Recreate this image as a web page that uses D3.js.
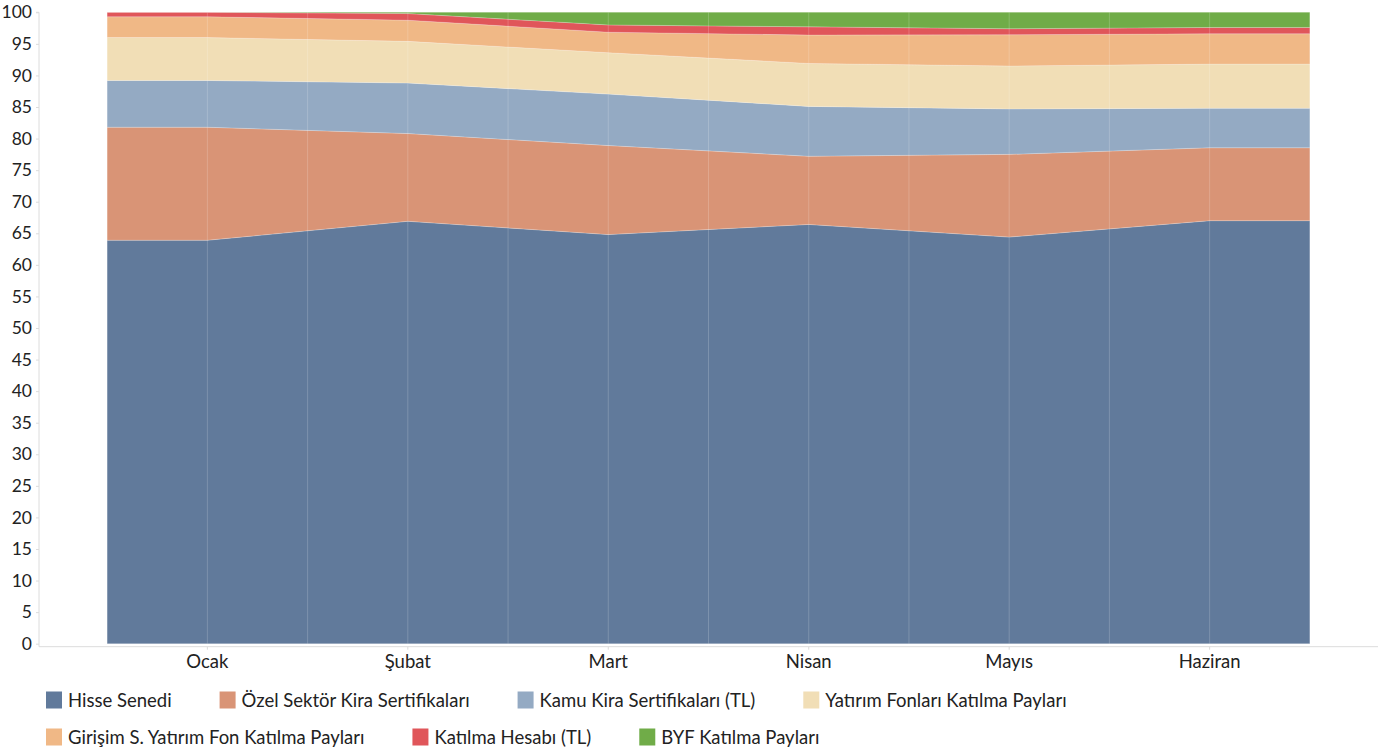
<!DOCTYPE html>
<html><head><meta charset="utf-8">
<script src="https://cdn.jsdelivr.net/npm/d3@7"></script>
<style>
html,body{margin:0;padding:0;background:#fff;}
svg{display:block;font-family:Lato,"Noto Sans",sans-serif;}
</style></head>
<body><svg id="c" width="1386" height="751"></svg>
<script>
const months = ["Ocak","Şubat","Mart","Nisan","Mayıs","Haziran"];
const seriesNames = ["Hisse Senedi","Özel Sektör Kira Sertifikaları","Kamu Kira Sertifikaları (TL)","Yatırım Fonları Katılma Payları","Girişim S. Yatırım Fon Katılma Payları","Katılma Hesabı (TL)","BYF Katılma Payları"];
const hisse    = [63.9, 66.9, 64.8, 66.4, 64.4, 67.0];
const ozel     = [17.9, 13.9, 14.1, 10.8, 13.1, 11.55];
const kamu     = [7.4, 8.0, 8.15, 7.9, 7.2, 6.25];
const yatirim  = [6.8, 6.6, 6.55, 6.8, 6.8, 7.0];
const girisim  = [3.3, 3.35, 3.25, 4.5, 4.95, 4.8];
const katilma  = [0.7, 1.05, 1.15, 1.3, 0.95, 1.0];
const byf      = [0.0, 0.2, 2.0, 2.3, 2.6, 2.4];
const colors = ["#617a9b","#d99476","#94aac3","#f1deb6","#f0b886","#e0565a","#70ac48"];
const yTicks = d3.range(0, 101, 5);

const svg = d3.select("#c");
const L = 39, R = 1378, T = 12.3, B = 643.7;
const x = d3.scaleBand().domain(months).range([L, R]).paddingInner(0).paddingOuter(0.34);
const y = d3.scaleLinear().domain([0, 100]).range([B, T]);

const seriesArrays = [hisse, ozel, kamu, yatirim, girisim, katilma, byf];
const rows = months.map((m, i) => {
  const o = {month: m};
  seriesNames.forEach((s, k) => o[s] = seriesArrays[k][i]);
  return o;
});
const stacked = d3.stack().keys(seriesNames)(rows);

function pts(layer) {
  const arr = layer.map((d, i) => ({x: x(months[i]) + x.bandwidth()/2, y0: d[0], y1: d[1]}));
  const first = layer[0], last = layer[layer.length-1];
  return [{x: x(months[0]), y0: first[0], y1: first[1]}, ...arr,
          {x: x(months[months.length-1]) + x.bandwidth(), y0: last[0], y1: last[1]}];
}
const area = d3.area().x(d => d.x).y0(d => y(d.y0)).y1(d => y(d.y1));

svg.append("g").selectAll("path").data(stacked).join("path")
  .attr("d", d => area(pts(d)))
  .attr("fill", (d, i) => colors[i])
  .attr("stroke", "#ffffff").attr("stroke-opacity", 0.25).attr("stroke-width", 0.8);

const gx = [];
months.forEach((m, i) => {
  gx.push(x(m) + x.bandwidth()/2);
  if (i > 0) gx.push(x(m));
});
svg.append("g").selectAll("line").data(gx).join("line")
  .attr("x1", d => d).attr("x2", d => d).attr("y1", T).attr("y2", B)
  .attr("stroke", "#ffffff").attr("stroke-opacity", 0.18).attr("stroke-width", 1);

const yAxis = svg.append("g").attr("transform", `translate(${L},0)`)
  .call(d3.axisLeft(y).tickValues(yTicks).tickSize(3).tickPadding(4));
yAxis.select(".domain").attr("stroke", "#dcdcdc").attr("d", `M-3,${T}H0V${B+3}`);
yAxis.selectAll(".tick line").attr("stroke", "#dcdcdc");
yAxis.selectAll("text").attr("font-size", 17.5).attr("fill", "#222").attr("font-family", "Lato");

const xAxis = svg.append("g").attr("transform", `translate(0,${B+3})`)
  .call(d3.axisBottom(x).tickSize(3).tickPadding(5));
xAxis.select(".domain").attr("stroke", "#dcdcdc").attr("d", `M${L},0H${R}`);
xAxis.selectAll(".tick line").attr("stroke", "#dcdcdc");
xAxis.selectAll("text").attr("font-size", 18.5).attr("fill", "#222").attr("font-family", "Lato");

const lg = svg.append("g");
let lx = 46, ly = 700;
const maxX = 1340;
seriesNames.forEach((s, i) => {
  const g = lg.append("g");
  const t = g.append("text").text(s).attr("font-size", 18.5).attr("fill", "#222")
    .attr("dominant-baseline", "central").attr("x", 22);
  const w = 22 + t.node().getComputedTextLength();
  if (lx + w > maxX) { lx = 46; ly += 37; }
  g.attr("transform", `translate(${lx},${ly})`);
  g.insert("rect", "text").attr("x", 0).attr("y", -8.5).attr("width", 16).attr("height", 17)
    .attr("fill", colors[i]);
  lx += w + 48;
});
</script></body></html>
